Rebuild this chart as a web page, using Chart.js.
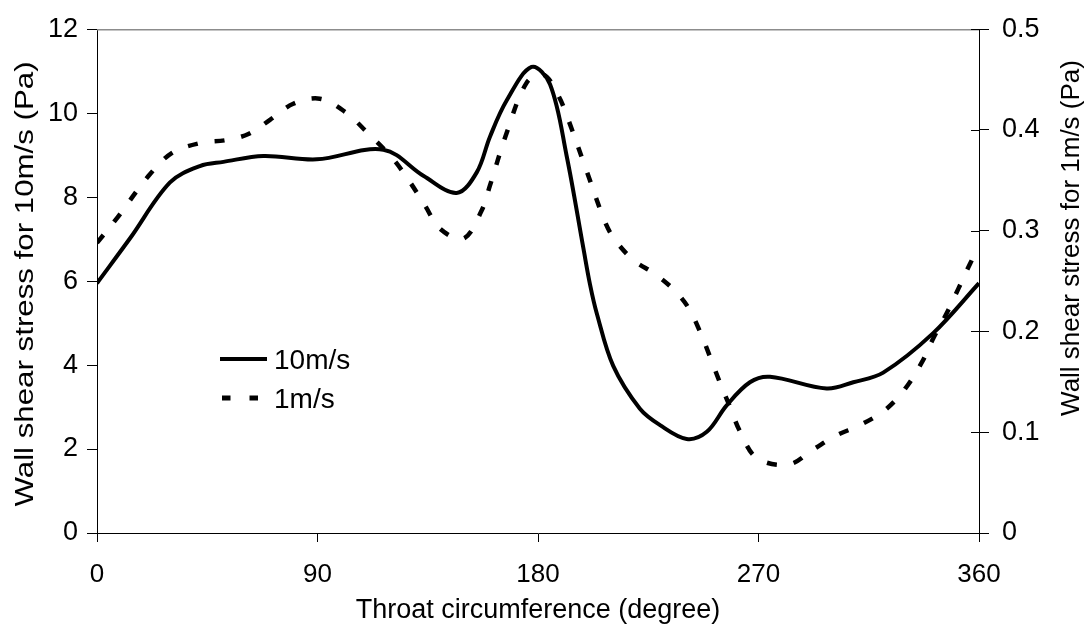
<!DOCTYPE html>
<html>
<head>
<meta charset="utf-8">
<script src="https://cdn.jsdelivr.net/npm/chart.js"></script>
<style>
  body { margin: 0; background: #fff; }
  #wrap { width: 1088px; height: 628px; position: relative; }
</style>
</head>
<body>
<div id="wrap"><canvas id="chart"></canvas></div>
<script>
// degrees around the throat
const xTicks = [0, 90, 180, 270, 360];

// 10m/s, left axis (Pa)
const deg10 = [0, 13.5, 29.8, 42, 51.6, 67.9, 89.7, 116.9, 133.2, 146.8, 155, 160.4, 167.2, 177.4, 184.9, 191.7, 198.5, 201.2, 204, 210.7, 221.6, 229.8, 240.7, 248.9, 257, 266.5, 274.7, 297.8, 308.7, 320.9, 341.3, 360];
const wss10 = [5.95, 7.02, 8.35, 8.74, 8.84, 8.98, 8.90, 9.13, 8.51, 8.10, 8.59, 9.44, 10.3, 11.10, 10.69, 8.98, 6.79, 5.93, 5.23, 3.98, 2.96, 2.57, 2.24, 2.41, 3.04, 3.59, 3.72, 3.44, 3.59, 3.82, 4.76, 5.95];

// 1m/s, right axis (Pa)
const deg1 = [0, 8, 20.9, 30.5, 42, 52.9, 61.8, 70.6, 80.1, 91, 101.2, 110.1, 120.9, 127.8, 133.9, 140, 149.5, 157, 160.4, 167.2, 175.4, 182.2, 188.3, 192.4, 199.9, 207.3, 211.4, 218.9, 227.8, 235.2, 241.3, 246.1, 250.2, 254.3, 258.4, 262.4, 269.3, 282.2, 292.4, 301.9, 311.4, 321.6, 329.8, 336.6, 341.3, 346.8, 351.5, 356.3, 360];
const wss1 = [0.288, 0.312, 0.354, 0.377, 0.387, 0.390, 0.396, 0.410, 0.426, 0.431, 0.418, 0.398, 0.371, 0.348, 0.325, 0.302, 0.292, 0.320, 0.345, 0.397, 0.447, 0.455, 0.434, 0.410, 0.359, 0.309, 0.291, 0.271, 0.257, 0.242, 0.224, 0.200, 0.175, 0.149, 0.125, 0.101, 0.0745, 0.068, 0.083, 0.097, 0.107, 0.122, 0.143, 0.169, 0.193, 0.218, 0.242, 0.267, 0.285];

const font = 'Liberation Sans, Arial, sans-serif';

const toPts = (xs, ys) => xs.map((x, i) => ({ x: x, y: ys[i] }));

// frame top line, inner ticks on right axis, legend and the y titles
const extras = {
  id: 'extras',
  afterDraw(chart) {
    const ctx = chart.ctx;
    const a = chart.chartArea;
    ctx.save();
    ctx.strokeStyle = '#8c8c8c';
    ctx.lineWidth = 1.5;
    ctx.beginPath();
    ctx.moveTo(a.left, a.top + 0.5);
    ctx.lineTo(a.right, a.top + 0.5);
    ctx.stroke();

    const y2 = chart.scales.y2;
    ctx.strokeStyle = '#000';
    ctx.lineWidth = 1;
    y2.ticks.forEach(t => {
      const py = Math.round(y2.getPixelForValue(t.value)) + 0.5;
      ctx.beginPath();
      ctx.moveTo(a.right - 8, py);
      ctx.lineTo(a.right, py);
      ctx.stroke();
    });

    // legend
    const ds = chart.data.datasets;
    ctx.fillStyle = '#000';
    ctx.font = '28px ' + font;
    ctx.textBaseline = 'middle';
    ctx.textAlign = 'left';
    ctx.lineWidth = 4;
    ctx.beginPath();
    ctx.moveTo(220, 359);
    ctx.lineTo(267, 359);
    ctx.stroke();
    ctx.fillText(ds[0].label, 274, 361);
    ctx.lineWidth = 5;
    ctx.setLineDash([8.5, 19]);
    ctx.beginPath();
    ctx.moveTo(222, 398);
    ctx.lineTo(258, 398);
    ctx.stroke();
    ctx.setLineDash([]);
    ctx.fillText(ds[1].label, 274, 400);

    // y titles
    ctx.textAlign = 'center';
    ctx.font = '25px ' + font;
    ctx.save();
    ctx.translate(26, 284);
    ctx.rotate(-Math.PI / 2);
    ctx.scale(1.25, 1);
    ctx.fillText('Wall shear stress for 10m/s (Pa)', 0, 0);
    ctx.restore();
    ctx.save();
    ctx.translate(1072, 238);
    ctx.rotate(-Math.PI / 2);
    ctx.scale(1.04, 1);
    ctx.fillText('Wall shear stress for 1m/s (Pa)', 0, 0);
    ctx.restore();
    ctx.restore();
  }
};

new Chart(document.getElementById('chart'), {
  type: 'line',
  data: {
    datasets: [{
      label: '10m/s',
      data: toPts(deg10, wss10),
      yAxisID: 'y',
      borderColor: '#000',
      borderWidth: 4,
      pointRadius: 0,
      tension: 0.35
    }, {
      label: '1m/s',
      data: toPts(deg1, wss1),
      yAxisID: 'y2',
      borderColor: '#000',
      borderWidth: 4.5,
      borderDash: [10, 17],
      borderCapStyle: 'butt',
      pointRadius: 0,
      tension: 0.35
    }]
  },
  options: {
    responsive: true,
    maintainAspectRatio: false,
    animation: false,
    layout: { padding: { top: 21, left: 0, right: 0, bottom: 0 } },
    plugins: { legend: { display: false }, tooltip: { enabled: false } },
    scales: {
      x: {
        type: 'linear',
        min: 0,
        max: 360,
        afterBuildTicks: s => { s.ticks = xTicks.map(v => ({ value: v })); },
        afterFit: s => { s.height = 95; },
        ticks: { color: '#000', font: { family: font, size: 26 }, padding: 17 },
        grid: { drawOnChartArea: false, color: '#000', tickLength: 9 },
        border: { color: '#000', width: 1 },
        title: {
          display: true,
          text: 'Throat circumference (degree)',
          color: '#000',
          font: { family: font, size: 27 },
          padding: { top: 0, bottom: 1 }
        }
      },
      y: {
        position: 'left',
        min: 0,
        max: 12,
        afterFit: s => { s.width = 97; },
        ticks: { stepSize: 2, color: '#000', font: { family: font, size: 27 }, padding: 9 },
        grid: { drawOnChartArea: false, color: '#000', tickLength: 10 },
        border: { color: '#000', width: 1 }
      },
      y2: {
        position: 'right',
        min: 0,
        max: 0.5,
        afterFit: s => { s.width = 109; },
        ticks: {
          stepSize: 0.1,
          color: '#000',
          font: { family: font, size: 27 },
          padding: 13,
          callback: v => v === 0 ? '0' : v.toFixed(1)
        },
        grid: { drawOnChartArea: false, color: '#000', tickLength: 10 },
        border: { color: '#000', width: 1 }
      }
    }
  },
  plugins: [extras]
});
</script>
</body>
</html>
